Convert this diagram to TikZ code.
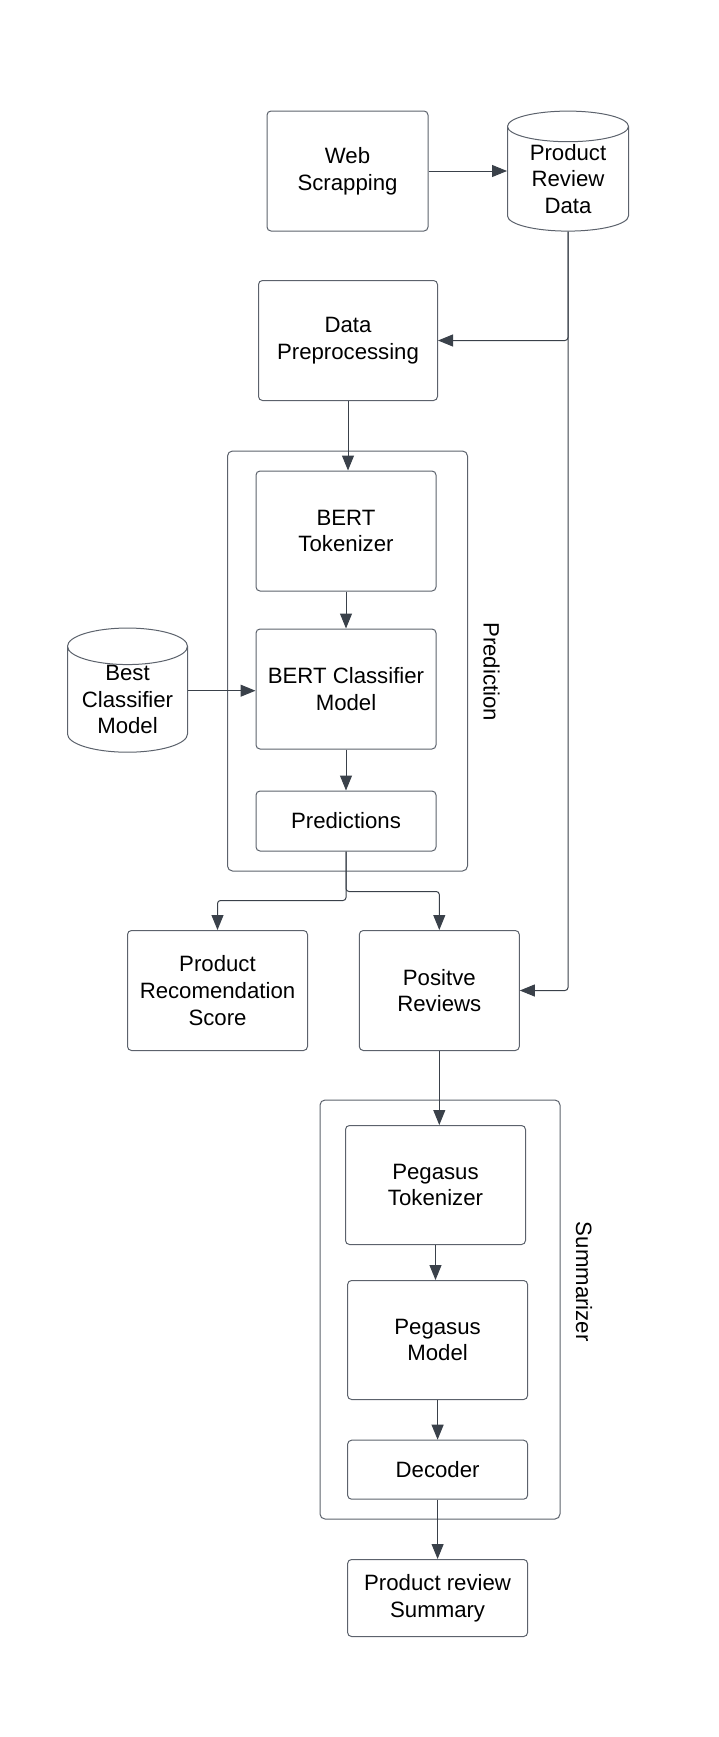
\documentclass[tikz,border=0pt]{standalone}
\usepackage{fontspec}
\setmainfont{Liberation Sans}
\usetikzlibrary{arrows.meta,shapes.geometric}
\definecolor{boxgray}{RGB}{92,98,108}
\definecolor{linegray}{RGB}{58,65,74}

\begin{document}
\begin{tikzpicture}[x=1pt,y=-1pt,line width=1pt,
  -{Triangle[length=15pt,width=12pt]}]
  \tikzstyle{box}=[draw=boxgray,-,rounded corners=4pt,align=center,inner sep=0pt,
    minimum width=180pt,minimum height=120pt,font=\fontsize{22.2}{26.7}\selectfont]
  \tikzstyle{store}=[draw=boxgray,-,cylinder,shape border rotate=90,aspect=0.4,
    align=center,inner sep=0pt,minimum width=120pt,minimum height=120pt,
    font=\fontsize{22.2}{26.7}\selectfont]
  \tikzstyle{frame}=[draw=boxgray,-,rounded corners=5pt,minimum width=240pt,inner sep=0pt]
  \tikzstyle{tag}=[rotate=-90,font=\fontsize{22.2}{26.7}\selectfont]
  \tikzstyle{link}=[draw=linegray,rounded corners=3pt]
  \useasboundingbox (0,0) rectangle (719,1737);

  \node[frame,minimum height=420pt] (predbox) at (347.5,661)    {};
  \node[frame,minimum height=419pt] (sumbox)  at (440,1309.5)   {};

  \node[box,minimum width=161pt] (web)  at (347.5,171)   {Web\\Scrapping};
  \node[store,minimum width=121pt] (data) at (568,179) {Product\\Review\\Data};
  \node[box,minimum width=179pt] (prep) at (348,340.5)   {Data\\Preprocessing};
  \node[box] (tok)   at (346,531)   {BERT\\Tokenizer};
  \node[box] (clf)   at (346,689)   {BERT Classifier\\Model};
  \node[box,minimum height=60pt] (pred) at (346,821) {Predictions};
  \node[store] (best) at (127.5,699.5) {Best\\Classifier\\Model};
  \node[box] (score) at (217.5,990.5) {Product\\Recomendation\\Score};
  \node[box,minimum width=160pt] (pos) at (439.3,990.5) {Positve\\Reviews};
  \node[box,minimum height=119pt] (ptok) at (435.5,1185) {Pegasus\\Tokenizer};
  \node[box,minimum height=119pt] (pmod) at (437.6,1340) {Pegasus\\Model};
  \node[box,minimum height=59pt]  (dec)  at (437.6,1469.7) {Decoder};
  \node[box,minimum height=77pt]  (summ) at (437.6,1598) {Product review\\Summary};

  \node[tag] (predlbl) at (491.5,671.7)  {Prediction};
  \node[tag] (sumlbl)  at (584,1281.8)   {Summarizer};

  \draw[link] (web.east) -- (web.east -| data.west);
  \draw[link] (data.south) |- (prep.east);
  \draw[link] (data.south) |- (pos.east);
  \draw[link] (prep.south) -- (prep.south |- tok.north);
  \draw[link] (tok.south) -- (tok.south |- clf.north);
  \draw[link] (best.east |- 0,690.7) -- (clf.west |- 0,690.7);
  \draw[link] (clf.south) -- (clf.south |- pred.north);
  \draw[link] (pred.south) -- ++(0,49) -| (score.north);
  \draw[link] (pred.south) -- ++(0,40) -| (pos.north);
  \draw[link] (pos.south) -- (pos.south |- ptok.north);
  \draw[link] (ptok.south) -- (ptok.south |- pmod.north);
  \draw[link] (pmod.south) -- (pmod.south |- dec.north);
  \draw[link] (dec.south) -- (dec.south |- summ.north);
\end{tikzpicture}
\end{document}
